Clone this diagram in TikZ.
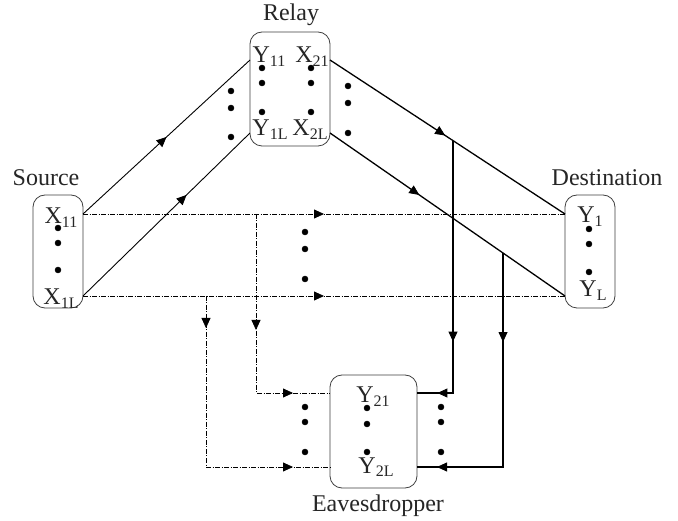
\documentclass[tikz,border=0pt]{standalone}
\usepackage{fontspec}
\setmainfont{Liberation Serif}
\usetikzlibrary{arrows.meta,decorations.markings}

\newcommand{\lsub}[1]{\raisebox{-4pt}{\fontsize{16}{16}\selectfont #1}}

\tikzset{
  blk/.style={draw=black!75, fill=white, rounded corners=12pt, line width=0.8pt},
  lbl/.style={font=\fontsize{24}{28}\selectfont, text=black!85, inner sep=0pt},
  sym/.style={lbl, anchor=base},
  tip/.style={postaction={decorate,decoration={markings,
      mark=at position #1 with {\arrow[line width=0.8pt]{Triangle[length=10pt,width=9pt]}}}}},
  dd/.style={line width=0.8pt, dash pattern=on 5pt off 1.5pt on 1pt off 1.5pt},
  sr/.style={line width=0.9pt},
  rd/.style={line width=1.3pt},
  re/.style={line width=1.8pt},
}

\begin{document}
\begin{tikzpicture}[x=1pt,y=-1pt]
\useasboundingbox[fill=white] (0,0) rectangle (678,521);
% Drawing boxes
\node[blk, minimum width=50pt, minimum height=113pt] (src) at (58,251.5) {};
\node[blk, minimum width=80pt, minimum height=114pt] (relay) at (290,89) {};
\node[blk, minimum width=50pt, minimum height=113pt] (dst) at (590,251.5) {};
\node[blk, minimum width=87pt, minimum height=113pt] (eve) at (373.5,431.5) {};
% Box labels
\node[lbl] (srclbl) at (46,178) {Source};
\node[lbl] (relaylbl) at (291,15) {Relay};
\node[lbl] (dstlbl) at (607,178) {Destination};
\node[lbl] (evelbl) at (378,506) {Eavesdropper};
% Symbols in the boxes
\node[sym] (x11) at (61,224) {X\lsub{11}};
\node[sym] (x1l) at (61,305) {X\lsub{1L}};
\node[sym] (y11) at (269,63) {Y\lsub{11}};
\node[sym] (x21) at (312,63) {X\lsub{21}};
\node[sym] (y1l) at (270,136) {Y\lsub{1L}};
\node[sym] (x2l) at (310,136) {X\lsub{2L}};
\node[sym] (y1) at (590,223) {Y\lsub{1}};
\node[sym] (yl) at (593,297) {Y\lsub{L}};
\node[sym] (y21) at (373,403) {Y\lsub{21}};
\node[sym] (y2l) at (376,473) {Y\lsub{2L}};
% Dots
\foreach \px/\ya/\yb/\yc in {58/228/243/270, 262/68/83/112, 311/68/83/112,
    231/91/108/137, 348/86/103/133, 589/229/244/272, 305/232/249/279,
    367/408/424/452, 305/407/422/452, 441/407/422/452}
{
  \filldraw (\px,\ya) circle(3pt);
  \filldraw (\px,\yb) circle(3pt);
  \filldraw (\px,\yc) circle(3pt);
}
% Ports
\coordinate (s1) at (83,214);
\coordinate (s2) at (83,296);
\coordinate (r1) at (250,60);
\coordinate (r2) at (250,133);
\coordinate (r3) at (330,60);
\coordinate (r4) at (330,133);
\coordinate (d1) at (565,214);
\coordinate (d2) at (565,296);
\coordinate (e1) at (330,393);
\coordinate (e2) at (330,467);
\coordinate (e3) at (417,393);
\coordinate (e4) at (417,467);
% Branch points
\path (r3) -- (d1) coordinate[pos=0.5234] (j1);
\path (r4) -- (d2) coordinate[pos=0.7362] (j2);
\coordinate (c1) at (j1 |- e3);
\coordinate (c2) at (j2 |- e4);
\coordinate (b1) at (256,214);
\coordinate (b2) at (206,296);
\coordinate (k1) at (b1 |- e1);
\coordinate (k2) at (b2 |- e2);
% Direct links
\draw[dd, tip=0.5] (s1) -- (d1);
\draw[dd, tip=0.5] (s2) -- (d2);
\draw[dd, tip=116pt, tip=216pt] (b1) -- (k1) -- (e1);
\draw[dd, tip=32pt, tip=258pt] (b2) -- (k2) -- (e2);
% Relay links
\draw[sr, tip=0.5] (s1) -- (r1);
\draw[sr, tip=0.62] (s2) -- (r2);
\draw[rd, tip=0.49] (r3) -- (d1);
\draw[rd, tip=0.38] (r4) -- (d2);
\draw[re, tip=201pt, tip=268pt] (j1) -- (c1) -- (e3);
\draw[re, tip=89pt, tip=280pt] (j2) -- (c2) -- (e4);
\end{tikzpicture}
\end{document}
